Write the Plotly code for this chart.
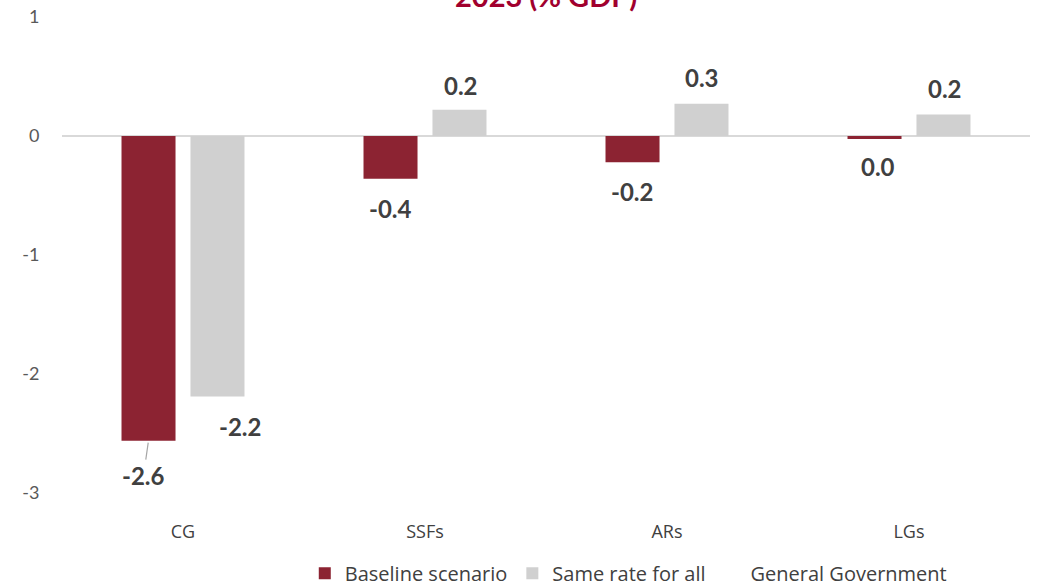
import plotly.graph_objects as go

categories = ["CG", "SSFs", "ARs", "LGs"]
baseline = [-2.56, -0.36, -0.22, -0.025]
same_rate = [-2.19, 0.22, 0.27, 0.18]
baseline_labels = ["-2.6", "-0.4", "-0.2", "0.0"]
same_rate_labels = ["-2.2", "0.2", "0.3", "0.2"]
y_ticks = [1, 0, -1, -2, -3]

RED = "#8C2332"
GRAY = "#D0D0D0"
TXT = "#404040"
FONT = "Lato"

fig = go.Figure()
fig.add_trace(go.Bar(x=categories, y=baseline, name="Baseline scenario",
                     marker_color=RED, marker_line_width=0))
fig.add_trace(go.Bar(x=categories, y=same_rate, name="Same rate for all",
                     marker_color=GRAY, marker_line_width=0))
fig.add_trace(go.Scatter(x=[None], y=[None], name="General Government",
                         mode="markers", marker=dict(size=1, color="rgba(0,0,0,0)")))

annotations = []
red_dx = [-5, 0, 0, 3]
red_dy = [35, 30, 29, 28]
for i, (c, v, t) in enumerate(zip(categories, baseline, baseline_labels)):
    if i == 0:
        annotations.append(dict(x=c, y=v, text="<b>%s</b>" % t, showarrow=True,
                                arrowhead=0, arrowwidth=1.2, arrowcolor="#A6A6A6",
                                ax=-5, ay=35, standoff=2, xshift=-34.5,
                                font=dict(size=24, color=TXT, family=FONT)))
    else:
        annotations.append(dict(x=c, y=v, text="<b>%s</b>" % t, showarrow=False,
                                xshift=-34.5 + red_dx[i], yshift=-red_dy[i],
                                font=dict(size=24, color=TXT, family=FONT)))
gray_dx = [23, 1, 0, 1]
gray_dy = [-30, 24, 26, 26]
for i, (c, v, t) in enumerate(zip(categories, same_rate, same_rate_labels)):
    annotations.append(dict(x=c, y=v, text="<b>%s</b>" % t, showarrow=False,
                            xshift=34.5 + gray_dx[i], yshift=gray_dy[i],
                            font=dict(size=24, color=TXT, family=FONT)))

annotations.append(dict(xref="paper", yref="paper", x=0.5, y=1, yanchor="bottom",
                        xanchor="center", yshift=2, xshift=0, showarrow=False,
                        text="<b>2023 (% GDP)</b>",
                        font=dict(size=29, color="#A1002E", family=FONT)))

fig.update_layout(
    width=1038, height=588,
    margin=dict(l=62, r=8, t=17, b=95, autoexpand=False),
    plot_bgcolor="white", paper_bgcolor="white",
    barmode="group", bargap=0.43, bargroupgap=0.217,
    font=dict(family=FONT, color="#595959"),
    showlegend=True,
    legend=dict(orientation="h", x=0.585, xanchor="center",
                yref="container", y=0.025, yanchor="middle",
                font=dict(size=20, color=TXT, family="Open Sans"),
                itemwidth=30, traceorder="normal"),
    annotations=annotations,
)
fig.update_yaxes(range=[-3, 1], tickvals=y_ticks, ticktext=[str(v) for v in y_ticks],
                 showgrid=False, zeroline=True, zerolinecolor="#D9D9D9", zerolinewidth=1.5,
                 ticks="outside", ticklen=18, tickcolor="rgba(0,0,0,0)",
                 tickfont=dict(size=18, color="#595959", family=FONT), showline=False)
fig.update_xaxes(showgrid=False, showline=False, ticks="outside", ticklen=22,
                 tickcolor="rgba(0,0,0,0)",
                 tickfont=dict(size=18, color="#404040", family="Open Sans"))

fig.write_html("out.html")
